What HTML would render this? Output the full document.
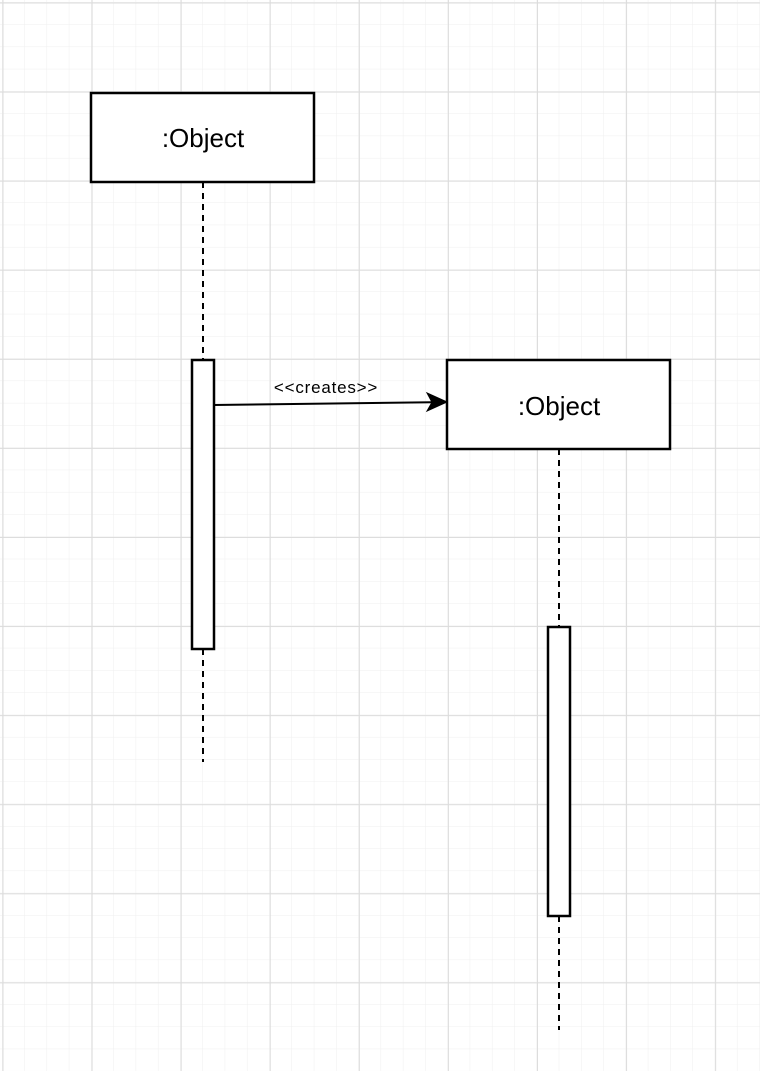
<!DOCTYPE html>
<html><head><style>html,body{margin:0;padding:0;background:#fff}svg{display:block}</style></head>
<body>
<svg width="760" height="1071" xmlns="http://www.w3.org/2000/svg">
<defs>
<pattern id="minor" x="2.5" y="2.5" width="22.27" height="22.27" patternUnits="userSpaceOnUse">
<path d="M22.27 0V22.27M0 22.27H22.27" stroke="#efefef" stroke-width="1" fill="none"/>
</pattern>
<pattern id="major" x="2.5" y="2.5" width="89.08" height="89.08" patternUnits="userSpaceOnUse">
<path d="M0.5 0V89.08M0 0.5H89.08" stroke="#dcdcdc" stroke-width="1" fill="none"/>
</pattern>
</defs>
<rect width="760" height="1071" fill="#fff"/>
<rect width="760" height="1071" fill="url(#minor)"/>
<rect width="760" height="1071" fill="url(#major)"/>
<g stroke="#000" stroke-width="2" fill="none" stroke-dasharray="6 5">
<line x1="203" y1="182" x2="203" y2="360"/>
<line x1="203" y1="649" x2="203" y2="762"/>
<line x1="559" y1="449" x2="559" y2="627"/>
<line x1="559" y1="916" x2="559" y2="1030"/>
</g>
<g stroke="#000" stroke-width="2.5" fill="#fff">
<rect x="91" y="93" width="223" height="89"/>
<rect x="447" y="360" width="223" height="89"/>
<rect x="192" y="360" width="22" height="289"/>
<rect x="548" y="627" width="22" height="289"/>
</g>
<line x1="214" y1="405" x2="432" y2="402.3" stroke="#000" stroke-width="2"/>
<path d="M447 402 L427 393 L432 402.2 L427 411 Z" fill="#000" stroke="#000" stroke-width="1"/>
<g font-family="Liberation Sans, sans-serif" fill="#000" text-anchor="middle">
<text x="203" y="147" font-size="26">:Object</text>
<text x="559" y="415" font-size="26">:Object</text>
<text x="326" y="393" font-size="17" letter-spacing="0.8">&lt;&lt;creates&gt;&gt;</text>
</g>
</svg>
</body></html>
